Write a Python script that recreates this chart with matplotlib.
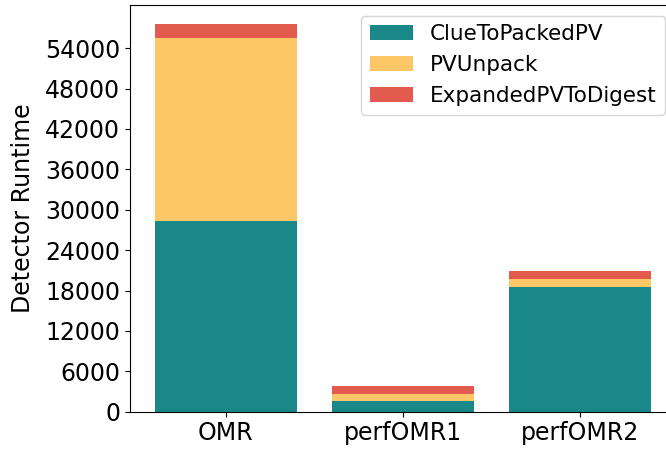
import numpy as np
import matplotlib
matplotlib.use("Agg")
import matplotlib.pyplot as plt

# data
categories = ["OMR", "perfOMR1", "perfOMR2"]
clue_to_packed = [28340, 1630, 18510]
pv_unpack = [27110, 1040, 1140]
expanded_to_digest = [2080, 1140, 1190]

colors = ["#1a8888", "#fdc667", "#e35b4e"]

plt.rcParams["font.size"] = 17

fig = plt.figure(figsize=(6.66, 4.5), dpi=100)
ax = fig.add_axes([130 / 666, 38.3 / 450, 546 / 666, 406.7 / 450])

x = np.arange(len(categories))
b1 = np.array(clue_to_packed)
b2 = b1 + np.array(pv_unpack)

ax.bar(x, clue_to_packed, color=colors[0], label="ClueToPackedPV")
ax.bar(x, pv_unpack, bottom=b1, color=colors[1], label="PVUnpack")
ax.bar(x, expanded_to_digest, bottom=b2, color=colors[2], label="ExpandedPVToDigest")

ax.set_xticks(x)
ax.set_xticklabels(categories)
ax.set_yticks(np.arange(0, 60000, 6000))
ax.set_ylabel("Detector Runtime", labelpad=7)
ax.legend(loc="upper right", fontsize=15.5)

fig.savefig("out.png", dpi=100)
